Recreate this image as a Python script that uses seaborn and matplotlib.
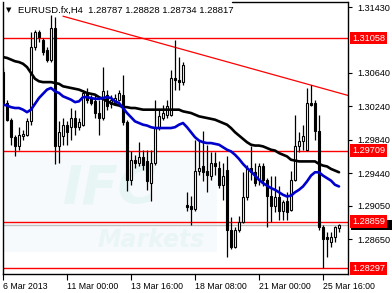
import numpy as np
import pandas as pd
import matplotlib
matplotlib.use("Agg")
import matplotlib.pyplot as plt
import matplotlib.transforms as mtransforms
import seaborn as sns

# ---------------- data ----------------
opens = [1.3065, 1.3028, 1.3008, 1.2987, 1.2976, 1.2988, 1.2990, 1.3006, 1.3095, 1.3113,
         1.3104, 1.3092, 1.3080, 1.3118, 1.2976, 1.2988, 1.3002, 1.2999, 1.3010, 1.2999,
         1.3002, 1.3040, 1.3034, 1.3030, 1.3016, 1.3010, 1.3038, 1.3027, 1.3028, 1.3032,
         1.3038, 1.3005, 1.2936, 1.2960, 1.2956, 1.2963, 1.2958, 1.2932, 1.2956, 1.2999,
         1.3010, 1.3014, 1.3014, 1.3058, 1.3056, 1.3053, 1.2906, 1.2904, 1.2901, 1.2946,
         1.2952, 1.2946, 1.2940, 1.2956, 1.2950, 1.2930, 1.2948, 1.2876, 1.2856, 1.2876,
         1.2886, 1.2915, 1.2950, 1.2945, 1.2936, 1.2952, 1.2936, 1.2916, 1.2904, 1.2915,
         1.2898, 1.2910, 1.2900, 1.2936, 1.2976, 1.2982, 1.2972, 1.3028, 1.3028, 1.2994,
         1.2879, 1.2868, 1.2861, 1.2867, 1.28787]
highs = [1.3070, 1.3032, 1.3010, 1.2990, 1.2999, 1.2996, 1.3010, 1.3113, 1.3115, 1.3115,
         1.3106, 1.3095, 1.3133, 1.3131, 1.3006, 1.3010, 1.3006, 1.3022, 1.3020, 1.3010,
         1.3044, 1.3046, 1.3038, 1.3038, 1.3032, 1.3071, 1.3044, 1.3038, 1.3039, 1.3044,
         1.3062, 1.3008, 1.2970, 1.2966, 1.2981, 1.2972, 1.2972, 1.2972, 1.3032, 1.3020,
         1.3026, 1.3032, 1.3068, 1.3104, 1.3083, 1.3077, 1.2921, 1.2916, 1.2984, 1.2984,
         1.2994, 1.2978, 1.2969, 1.2969, 1.2958, 1.2956, 1.2964, 1.2891, 1.2879, 1.2892,
         1.2945, 1.2954, 1.2976, 1.2956, 1.2956, 1.2956, 1.2938, 1.2940, 1.2940, 1.2928,
         1.2912, 1.2921, 1.2946, 1.3014, 1.2993, 1.3002, 1.3046, 1.3050, 1.3032, 1.3014,
         1.2882, 1.2874, 1.2873, 1.2881, 1.28828]
lows = [1.3025, 1.3006, 1.2978, 1.2964, 1.2972, 1.2984, 1.2988, 1.3002, 1.3092, 1.3101,
        1.3086, 1.3077, 1.3077, 1.2955, 1.2956, 1.2978, 1.2978, 1.2984, 1.2990, 1.2996,
        1.3000, 1.3028, 1.3025, 1.3010, 1.2990, 1.3008, 1.3020, 1.3022, 1.3025, 1.3030,
        1.3002, 1.2922, 1.2930, 1.2950, 1.2953, 1.2948, 1.2924, 1.2910, 1.2954, 1.2996,
        1.3008, 1.3010, 1.3012, 1.3044, 1.3044, 1.3050, 1.2898, 1.2882, 1.2898, 1.2942,
        1.2934, 1.2921, 1.2936, 1.2942, 1.2926, 1.2912, 1.2844, 1.2853, 1.2854, 1.2874,
        1.2884, 1.2912, 1.2936, 1.2929, 1.2930, 1.2928, 1.2880, 1.2886, 1.2897, 1.2888,
        1.2888, 1.2888, 1.2898, 1.2934, 1.2969, 1.2972, 1.2970, 1.3024, 1.2984, 1.2876,
        1.28297, 1.2844, 1.2855, 1.2861, 1.28734]
closes = [1.3028, 1.3008, 1.2987, 1.2976, 1.2990, 1.2991, 1.3006, 1.3095, 1.3113, 1.3107,
          1.3089, 1.3080, 1.3118, 1.2976, 1.2993, 1.3002, 1.2993, 1.3010, 1.2999, 1.3005,
          1.3040, 1.3032, 1.3028, 1.3016, 1.3010, 1.3042, 1.3024, 1.3032, 1.3034, 1.3040,
          1.3005, 1.2936, 1.2960, 1.2956, 1.2963, 1.2954, 1.2934, 1.2956, 1.2999, 1.3012,
          1.3016, 1.3024, 1.3058, 1.3056, 1.3053, 1.3074, 1.2903, 1.2901, 1.2946, 1.2950,
          1.2945, 1.2942, 1.2956, 1.2952, 1.2930, 1.2940, 1.2876, 1.2856, 1.2876, 1.2886,
          1.2915, 1.2950, 1.2945, 1.2932, 1.2952, 1.2936, 1.2916, 1.2904, 1.2915, 1.2898,
          1.2909, 1.2897, 1.2936, 1.2976, 1.2982, 1.2988, 1.3028, 1.3026, 1.2994, 1.2879,
          1.2865, 1.2865, 1.2867, 1.2879, 1.28817]
ma_slow = [1.3083, 1.3082, 1.3080, 1.3078, 1.3077, 1.3075, 1.3071, 1.3064, 1.3057, 1.3054,
           1.3053, 1.3053, 1.3053, 1.3052, 1.3051, 1.3048, 1.3047, 1.3046, 1.3045, 1.3044,
           1.3042, 1.3040, 1.3039, 1.3038, 1.3035, 1.3033, 1.3030, 1.3028, 1.3026, 1.3025,
           1.3023, 1.3023, 1.3022, 1.3022, 1.3021, 1.3020, 1.3020, 1.3020, 1.3020, 1.3020,
           1.3020, 1.3020, 1.3020, 1.3020, 1.3020, 1.3018, 1.3017, 1.3016, 1.3014, 1.3012,
           1.3011, 1.3010, 1.3009, 1.3008, 1.3006, 1.3004, 1.3002, 1.2998, 1.2993, 1.2989,
           1.2985, 1.2981, 1.2978, 1.2977, 1.2977, 1.2976, 1.2974, 1.2972, 1.2971, 1.2968,
           1.2966, 1.2964, 1.2960, 1.2959, 1.2958, 1.2958, 1.2958, 1.2958, 1.2958, 1.2955,
           1.2953, 1.2952, 1.2949, 1.2947, 1.2945]
ma_fast = [1.3026, 1.3025, 1.3023, 1.3022, 1.3022, 1.3020, 1.3017, 1.3020, 1.3027, 1.3034,
           1.3039, 1.3044, 1.3046, 1.3042, 1.3040, 1.3036, 1.3034, 1.3032, 1.3029, 1.3030,
           1.3035, 1.3035, 1.3034, 1.3033, 1.3033, 1.3034, 1.3035, 1.3034, 1.3030, 1.3028,
           1.3022, 1.3016, 1.3011, 1.3006, 1.3004, 1.3002, 1.3001, 1.2999, 1.2998, 1.2998,
           1.2998, 1.2998, 1.2998, 1.2999, 1.3002, 1.3004, 1.2999, 1.2993, 1.2987, 1.2983,
           1.2981, 1.2980, 1.2980, 1.2979, 1.2978, 1.2975, 1.2972, 1.2970, 1.2966, 1.2961,
           1.2955, 1.2950, 1.2946, 1.2941, 1.2936, 1.2932, 1.2929, 1.2926, 1.2924, 1.2921,
           1.2918, 1.2916, 1.2917, 1.2921, 1.2924, 1.2928, 1.2934, 1.2941, 1.2945, 1.2945,
           1.2941, 1.2938, 1.2935, 1.2930, 1.2928]

x_tick_pos = [0, 16, 32, 48, 64, 80]
x_tick_labels = ["6 Mar 2013", "11 Mar 00:00", "13 Mar 16:00",
                 "18 Mar 08:00", "21 Mar 00:00", "25 Mar 16:00"]
y_ticks = [1.31430, 1.30640, 1.30240, 1.29840, 1.29440, 1.29050, 1.28650]
levels = [1.31058, 1.29709, 1.28859, 1.28297]
current_price = 1.28817
trend_idx = [15, 86.3]
trend_price = [1.3132, 1.3037]
title = "EURUSD.fx,H4  1.28787 1.28828 1.28734 1.28817"

# ---------------- figure ----------------
sns.set_style("white")
plt.rcParams["font.family"] = ["Liberation Sans", "DejaVu Sans"]

W, H = 392, 293
fig = plt.figure(figsize=(W / 100, H / 100), dpi=100)
ax = fig.add_axes([3 / W, 19 / H, 345 / W, 272 / H])

df = pd.DataFrame({"i": np.arange(len(opens)), "open": opens, "high": highs,
                   "low": lows, "close": closes, "ma_slow": ma_slow, "ma_fast": ma_fast})

# faint watermark (background decoration)
ax.add_patch(plt.Rectangle((0.0, 0.081), 0.62, 0.371, transform=ax.transAxes,
                           facecolor="#f7fafc", edgecolor="none", zorder=0))
ax.text(0.31, 0.31, "IFC", transform=ax.transAxes, fontsize=38, fontweight="bold",
        style="italic", color="#e8f5f5", ha="center", va="center", zorder=0.5,
        family="DejaVu Sans")
ax.text(0.43, 0.125, "Markets", transform=ax.transAxes, fontsize=17, fontweight="bold",
        style="italic", color="#eaf5f5", ha="center", va="center", zorder=0.5,
        family="DejaVu Sans")

# horizontal levels
ax.axhline(current_price, color="#c0c0c0", lw=1.0, zorder=1)
for lv in levels:
    ax.axhline(lv, color="#ff0000", lw=1.0, zorder=1.5)

# candles
ax.vlines(df["i"], df["low"], df["high"], color="black", lw=0.9, zorder=3)
bottom = np.minimum(df["open"], df["close"])
height = np.maximum(np.abs(df["close"] - df["open"]), 0.00004)
up = df["close"] >= df["open"]
ax.bar(df["i"][up], height[up], bottom=bottom[up], width=0.62,
       facecolor="white", edgecolor="black", linewidth=0.8, zorder=4)
ax.bar(df["i"][~up], height[~up], bottom=bottom[~up], width=0.62,
       facecolor="black", edgecolor="black", linewidth=0.8, zorder=4)

# moving averages and trend line
sns.lineplot(data=df, x="i", y="ma_slow", color="black", lw=1.9, ax=ax, zorder=5)
sns.lineplot(data=df, x="i", y="ma_fast", color="#0000cc", lw=1.9, ax=ax, zorder=5)
sns.lineplot(x=trend_idx, y=trend_price, color="#ff0000", lw=0.9, ax=ax, zorder=2)

ax.set_xlim(0, 86.25)
ax.set_ylim(1.28231, 1.31490)
ax.set_xlabel("")
ax.set_ylabel("")

# axes style
for s in ["left", "right", "bottom"]:
    ax.spines[s].set_visible(True)
    ax.spines[s].set_color("black")
    ax.spines[s].set_linewidth(1.0)
ax.spines["top"].set_visible(False)
ax.plot([0.665, 1.0], [1.0, 1.0], transform=ax.transAxes, color="black", lw=1.0,
        clip_on=False, zorder=6)

ax.yaxis.tick_right()
ax.set_yticks(y_ticks)
ax.set_yticklabels([f"{v:.5f}" for v in y_ticks])
ax.tick_params(axis="y", which="both", right=True, left=False, length=3, width=0.8,
               pad=4, labelsize=6.6, colors="black")
ax.set_xticks(x_tick_pos)
ax.set_xticklabels(x_tick_labels, ha="left")
ax.tick_params(axis="x", bottom=True, length=4, width=0.8, pad=2, labelsize=6.3,
               colors="black")

# price boxes on the right scale
trans = mtransforms.blended_transform_factory(ax.transAxes, ax.transData)
box_h = 0.00062
ax.add_patch(plt.Rectangle((1.010, current_price - box_h), 0.14, 2 * box_h,
                           transform=trans, facecolor="black", edgecolor="none",
                           clip_on=False, zorder=7))
for lv in levels:
    ax.text(1.012, lv, f"{lv:.5f}", transform=trans, ha="left", va="center",
            color="white", fontsize=6.6, clip_on=False, zorder=8,
            bbox=dict(boxstyle="square,pad=0.18", facecolor="#ff0000", edgecolor="none"))

# title
fig.text(6 / W, 1 - 10 / H, "\u25BC", fontsize=5, ha="left", va="center", color="black",
         family="DejaVu Sans")
fig.text(18 / W, 1 - 10 / H, title, fontsize=6.8, ha="left", va="center", color="black")

fig.savefig("out.png", dpi=100, facecolor="white")
